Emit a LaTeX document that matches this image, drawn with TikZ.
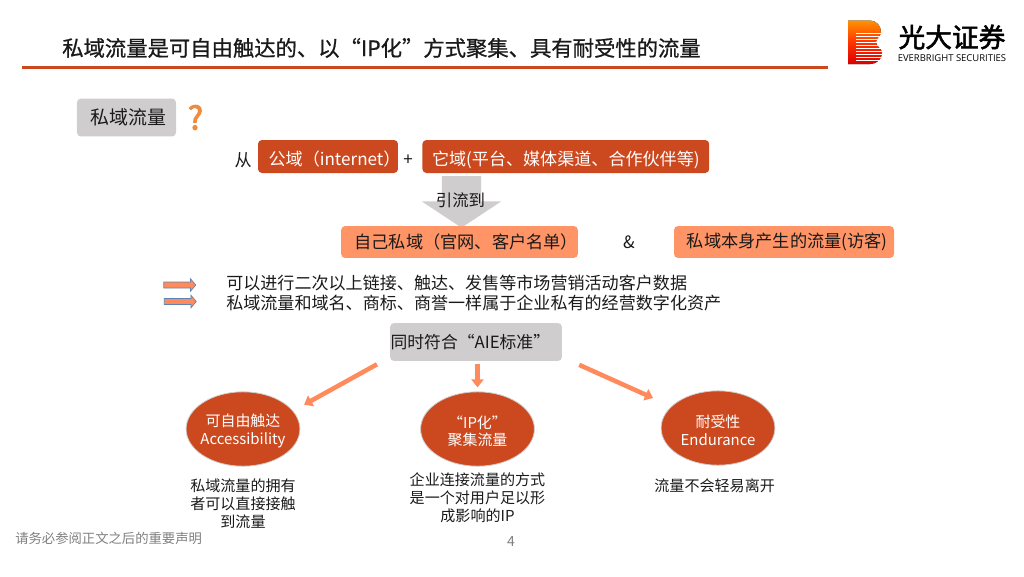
\documentclass[tikz,border=0pt]{standalone}
\usepackage{fontspec}
\usepackage{xcolor}
\usetikzlibrary{arrows.meta,positioning,calc,shapes.arrows,shapes.geometric}
\setmainfont{Noto Sans CJK SC}
\newfontfamily\titlefont[FakeBold=0.8]{Noto Sans CJK SC}
\newfontfamily\logofont[FakeBold=2]{Noto Sans CJK SC}
\newfontfamily\questfont[FakeBold=3]{Noto Sans CJK SC}
\newfontfamily\logolatin{Open Sans}
\definecolor{ebInk}{HTML}{1A1A1A}
\definecolor{ebRed}{HTML}{CC491F}
\definecolor{ebPeach}{HTML}{FF9466}
\definecolor{ebGray}{HTML}{CFCDCE}
\definecolor{ebArrow}{HTML}{FF8A5C}
\definecolor{ebBlue}{HTML}{5B85B5}
\definecolor{ebFoot}{HTML}{7F7F7F}
\definecolor{ebQuest}{HTML}{F08A3C}
\tikzset{
  % Gray tag box
  tagbox/.style={rectangle,rounded corners=3pt,inner sep=0pt,
    minimum height=1.0cm,align=center,fill=ebGray,
    font=\fontsize{14.2}{17}\selectfont,text=ebInk},
  % Red source box
  srcbox/.style={rectangle,rounded corners=3pt,inner sep=0pt,
    minimum height=0.87cm,align=center,fill=ebRed,text height=13.5pt,text depth=0pt,
    font=\fontsize{12.8}{16}\selectfont,text=white},
  % Peach target box
  dstbox/.style={rectangle,rounded corners=3pt,inner sep=0pt,
    minimum height=0.84cm,align=center,fill=ebPeach,
    font=\fontsize{12.9}{16}\selectfont,text=ebInk},
  % Red ellipse
  critnode/.style={ellipse,inner sep=0pt,minimum width=3.0cm,minimum height=1.96cm,
    align=center,fill=ebRed,draw=ebGray,line width=0.6pt,
    font=\fontsize{11.2}{13.4}\selectfont,text=white},
  % Plain texts
  lbl/.style={inner sep=0pt,font=\fontsize{12.8}{15}\selectfont,text=ebInk},
  desc/.style={inner sep=0pt,align=center,
    font=\fontsize{11.3}{13.6}\selectfont,text=ebInk},
  % Arrows
  fatarr/.style={-{Triangle[width=9pt,length=6pt]},line width=3.4pt,color=ebArrow},
  minarr/.style={single arrow,draw=ebBlue,fill=ebArrow,line width=0.5pt,
    inner xsep=0pt,inner ysep=2pt,minimum height=24pt,
    single arrow head extend=2.5pt,single arrow tip angle=100},
  bigarr/.style={single arrow,fill=ebGray,rotate=-90,
    inner xsep=14.25pt,inner ysep=14.6pt,
    single arrow head extend=15pt,single arrow tip angle=113},
}
\begin{document}
\begin{tikzpicture}[x=0.75pt,y=-0.75pt]
  \useasboundingbox (0,0) rectangle (1024,576);

  % Header
  \node[inner sep=0pt,anchor=west,font=\fontsize{16}{18}\titlefont,text=ebInk] (title) at (62,48)
    {私域流量是可自由触达的、以“IP化”方式聚集、具有耐受性的流量};
  \coordinate (ruleL) at (22,67.5);
  \coordinate (ruleR) at (828,67.5);
  \draw[ebRed,line width=2.3pt] (ruleL) -- (ruleR);

  % Logo
  \fill[top color=orange!85!yellow,bottom color=red!85!black,middle color=orange!40!red]
    (848,20.5) -- (870,20.5) to[out=0,in=90] (881,32) to[out=270,in=90] (876,42)
    to[out=270,in=90] (882,53) to[out=270,in=0] (870,64) -- (848,64) -- cycle;
  \foreach \yy in {33,36,39,42,45,48,51,54,57,60}
    \draw[white,line width=0.6pt] (856,\yy) -- (883,\yy);
  \node[inner sep=0pt,font=\fontsize{20}{22}\logofont,text=black] (logoCn) at (952,37) {光大证券};
  \node[inner sep=0pt,below=0.12cm of logoCn,font=\fontsize{7.1}{8}\logolatin,text=black] (logoEn)
    {EVERBRIGHT SECURITIES};

  % Question
  \node[tagbox,text width=2.61cm] (priv) at (126.5,117.5) {\hspace*{3pt}私域流量};
  \node[inner sep=0pt,right=0.3cm of priv,font=\fontsize{24}{26}\questfont,text=ebQuest] (quest) {?};

  % Sources
  \node[srcbox,text width=3.69cm] (pub) at (328,156.5) {\hspace*{8pt}公域（internet）};
  \node[lbl,left=0.15cm of pub,yshift=-3pt] (from) {从};
  \node[lbl,right=0.13cm of pub,yshift=-3pt] (plus) {+};
  \node[srcbox,right=0.63cm of pub,text width=7.56cm] (other) {它域(平台、媒体渠道、合作伙伴等)};

  % Big arrow
  \node[bigarr,anchor=tip] (flow) at (461.5,228) {};
  \node[lbl,font=\fontsize{12.3}{15}\selectfont] (flowlbl) at (460.5,200) {引流到};

  % Targets
  \node[dstbox,text width=6.24cm] (own) at (459.5,242) {\hspace*{10pt}自己私域（官网、客户名单）};
  \node[lbl,right=1.18cm of own] (amp) {\&};
  \node[dstbox,right=2.52cm of own,text width=5.8cm] (self) {\hspace*{5pt}私域本身产生的流量(访客)};

  % Two lines
  \node[lbl,anchor=west] (lineA) at (226,283) {可以进行二次以上链接、触达、发售等市场营销活动客户数据};
  \node[lbl,anchor=west,below=0.1cm of lineA.south west,anchor=north west] (lineB) {私域流量和域名、商标、商誉一样属于企业私有的经营数字化资产};
  \node[minarr] (markA) at (178.5,285) {};
  \node[minarr] (markB) at (179,301.5) {};

  % AIE
  \node[tagbox,text width=4.53cm,font=\fontsize{12.6}{15}\selectfont,text height=10pt,text depth=0pt] (aie) at (476,342) {\hspace*{-8.5pt}同时符合“AIE标准”};

  \node[critnode] (acc) at (243,429) {\rule{0pt}{13pt}可自由触达\\\makebox[2cm]{Accessibility}};
  \node[critnode] (ipc) at (477.5,429) {\rule{0pt}{13pt}“IP化”\\聚集流量};
  \node[critnode] (dur) at (718,428) {\rule{0pt}{13pt}耐受性\\Endurance};

  \draw[fatarr,shorten <=11pt,shorten >=9.4pt] (aie.190) -- (acc.20);
  \draw[fatarr,shorten <=2.2pt,shorten >=3pt] (ipc.north |- aie.south) -- (ipc.north);
  \draw[fatarr,shorten <=14pt,shorten >=15pt] (aie.-10) -- (dur.155);

  % Descriptions
  \node[desc,below=0.31cm of acc] (accdesc) {私域流量的拥有\\者可以直接接触\\到流量};
  \node[desc,below=0.15cm of ipc] (ipcdesc) {企业连接流量的方式\\是一个对用户足以形\\成影响的IP};
  \node[desc,below=0.33cm of dur,xshift=-2.5pt] (durdesc) {流量不会轻易离开};

  % Footer
  \node[inner sep=0pt,anchor=west,font=\fontsize{10}{12}\selectfont,text=ebFoot] (foot) at (15,538) {请务必参阅正文之后的重要声明};
  \node[inner sep=0pt,font=\fontsize{10.5}{12}\selectfont,text=ebFoot] (page) at (511,541) {4};
\end{tikzpicture}
\end{document}
